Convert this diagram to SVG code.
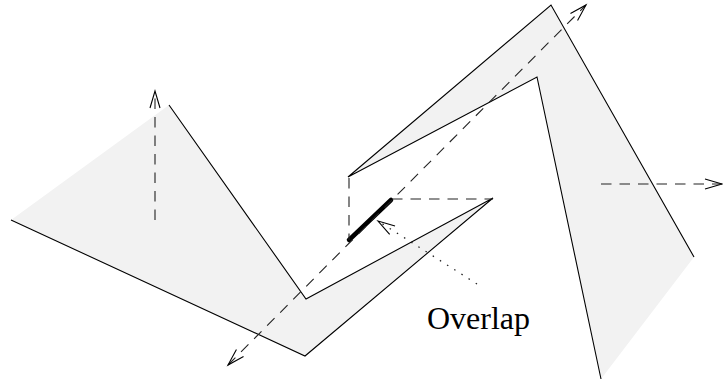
<svg xmlns="http://www.w3.org/2000/svg" width="723" height="383" viewBox="0 0 723 383">
<style>
.fill{fill:#f2f2f2;stroke:none}
.edge{fill:none;stroke:#000;stroke-width:1.1;stroke-linejoin:miter}
.dash{fill:none;stroke:#222;stroke-width:1.1;stroke-dasharray:10.5 8}
.dot{fill:none;stroke:#222;stroke-width:1.3;stroke-dasharray:1.5 7}
.thick{stroke:#000;stroke-width:4.5;stroke-linecap:round}
.label{font-family:"Liberation Serif","Times New Roman",serif;font-size:32px;fill:#000}
</style>
<defs>
<marker id="ah" markerUnits="userSpaceOnUse" markerWidth="24" markerHeight="14" viewBox="-18 -7 20 14" refX="0" refY="0" orient="auto-start-reverse">
<path d="M-17,-5 L0,0 L-17,5" fill="none" stroke="#000" stroke-width="1.1"/>
</marker>
</defs>
<g id="shape-left">
<polygon class="fill" points="11,220 169,105 306,299 493,198 305,356"/>
<polyline class="edge" points="169,105 306,299 493,198 305,356 11,220"/>
</g>
<g id="shape-right">
<polygon class="fill" points="348,177 551,5 694,257 601,379 537,77"/>
<polyline class="edge" points="694,257 551,5 348,177 537,77 601,379"/>
</g>
<g id="overlap-segment">
<line class="thick" x1="349" y1="240" x2="391" y2="200"/>
</g>
<g id="connectors">
<line class="dash" x1="155" y1="220" x2="155" y2="91" marker-end="url(#ah)"/>
<line class="dash" x1="228" y1="365" x2="586" y2="5" marker-start="url(#ah)" marker-end="url(#ah)"/>
<line class="dash" x1="349" y1="178" x2="349" y2="240"/>
<line class="dash" x1="392" y1="199" x2="493" y2="199"/>
<line class="dash" x1="601" y1="184" x2="722" y2="184" marker-end="url(#ah)"/>
<line class="dot" x1="477" y1="284" x2="378" y2="221" marker-end="url(#ah)"/>
</g>
<g id="label-overlap">
<text class="label" x="427" y="329">Overlap</text>
</g>
</svg>
